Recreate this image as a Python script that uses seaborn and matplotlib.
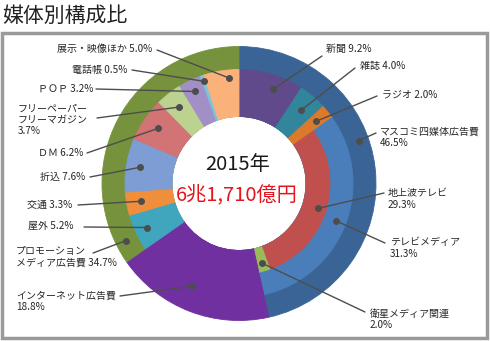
import numpy as np
import pandas as pd
import seaborn as sns
import matplotlib.pyplot as plt
from matplotlib.patches import Rectangle

sns.set_theme(style="white")
plt.rcParams['font.family'] = ['Noto Sans CJK JP', 'DejaVu Sans']

# ---- data (2015, share of ad spending, %) ----
outer_names = ['マスコミ四媒体広告費', 'インターネット広告費', 'プロモーション\nメディア広告費']
outer_vals = [46.5, 18.8, 34.7]

middle_names = ['新聞', '雑誌', 'ラジオ', 'テレビメディア', 'インターネット広告費',
                '屋外', '交通', '折込', 'ＤＭ', 'フリーペーパー\nフリーマガジン',
                'ＰＯＰ', '電話帳', '展示・映像ほか']
middle_vals = [9.2, 4.0, 2.0, 31.3, 18.8, 5.2, 3.3, 7.6, 6.2, 3.7, 3.2, 0.5, 5.0]

inner_names = ['新聞', '雑誌', 'ラジオ', '地上波テレビ', '衛星メディア関連', 'インターネット広告費',
               '屋外', '交通', '折込', 'ＤＭ', 'フリーペーパー\nフリーマガジン',
               'ＰＯＰ', '電話帳', '展示・映像ほか']
inner_vals = [9.2, 4.0, 2.0, 29.3, 2.0, 18.8, 5.2, 3.3, 7.6, 6.2, 3.7, 3.2, 0.5, 5.0]

year_text = '2015年'
total_text = '6兆1,710億円'

# ---- colours ----
colors = {
    'マスコミ四媒体広告費': '#3a6496',
    'インターネット広告費': '#7030a0',
    'プロモーション\nメディア広告費': '#76923c',
    '新聞': '#604a8c',
    '雑誌': '#31869b',
    'ラジオ': '#dc7a2c',
    'テレビメディア': '#4a7ebb',
    '地上波テレビ': '#c0504d',
    '衛星メディア関連': '#9bbb59',
    '屋外': '#40a6be',
    '交通': '#ef8f3c',
    '折込': '#7d9dd4',
    'ＤＭ': '#d27375',
    'フリーペーパー\nフリーマガジン': '#bcd290',
    'ＰＯＰ': '#a18fc6',
    '電話帳': '#7ac4dd',
    '展示・映像ほか': '#fbb27a',
}

W, H = 490, 341
fig = plt.figure(figsize=(W / 100, H / 100), dpi=100)
ax = fig.add_axes([0, 0, 1, 1])


def P(x, y):
    # pixel (top-left origin) -> data coords
    return x, H - y


cx, cy = P(239, 183.5)
r0, r1, r2, r3 = 67, 91, 114, 137

# rings drawn as stacked discs (each reaching the hole) so no seams show between rings
kw = dict(startangle=90, counterclock=False, center=(cx, cy), frame=True)
for names, vals, rad in [(outer_names, outer_vals, r3),
                         (middle_names, middle_vals, r2),
                         (inner_names, inner_vals, r1)]:
    cols = [colors[n] for n in names]
    wedges, _ = ax.pie(vals, radius=rad, colors=cols,
                       wedgeprops=dict(width=rad - r0, linewidth=0.6), **kw)
    for w, c in zip(wedges, cols):
        w.set_edgecolor(c)


def seg_angle(names, vals, name, frac):
    i = names.index(name)
    start = sum(vals[:i])
    return np.deg2rad(90 - 3.6 * (start + vals[i] * frac))


# label layout: (ring, text left x, text center y, separator, line start x, line start y, dot radius, pos in wedge)
layout = {
    '新聞': ('inner', 326, 49, ' ', 322, 56, 100, 0.6),
    '雑誌': ('inner', 360, 66, ' ', 355, 68, 96, 0.5),
    'ラジオ': ('inner', 382, 94, ' ', 377, 96, 99, 0.5),
    'マスコミ四媒体広告費': ('outer', 380, 137, '\n', 376, 133, 127, 0.42),
    '地上波テレビ': ('inner', 388, 199, '\n', 384, 193, 83, 0.5),
    'テレビメディア': ('middle', 390, 248, '\n', 385, 243, 104, 0.5),
    '衛星メディア関連': ('inner', 370, 319, '\n', 365, 312, 83, 0.5),
    'インターネット広告費': ('inner', 16, 301, '\n', 120, 296, 113, 0.55),
    '屋外': ('inner', 28, 226, ' ', 84, 227, 102, 0.5),
    '交通': ('inner', 27, 205, ' ', 78, 205, 100, 0.5),
    '折込': ('inner', 40, 177, ' ', 90, 177, 100, 0.5),
    'ＤＭ': ('inner', 38, 153, ' ', 87, 153, 98, 0.5),
    'フリーペーパー\nフリーマガジン': ('inner', 18, 120, '\n', 97, 118, 97, 0.5),
    'ＰＯＰ': ('inner', 38, 89, ' ', 96, 89, 102, 0.5),
    '電話帳': ('inner', 72, 70, ' ', 132, 70, 108, 0.5),
    '展示・映像ほか': ('inner', 57, 49, ' ', 157, 50, 106, 0.7),
    'プロモーション\nメディア広告費': ('outer', 16, 257, ' ', 93, 253, 127, 0.065),
}
rings = {'outer': (outer_names, outer_vals),
         'middle': (middle_names, middle_vals),
         'inner': (inner_names, inner_vals)}

line_col = '#4d4d4d'
for name, (ring, tx, ty, sep, lx, ly, dr, frac) in layout.items():
    names, vals = rings[ring]
    v = vals[names.index(name)]
    th = seg_angle(names, vals, name, frac)
    dx, dy = cx + dr * np.cos(th), cy + dr * np.sin(th)
    sx, sy = P(lx, ly)
    ax.plot([sx, dx], [sy, dy], color=line_col, lw=1.0, solid_capstyle='round', zorder=5)
    ax.plot(dx, dy, 'o', color=line_col, ms=4, zorder=6)
    ax.text(*P(tx, ty), f'{name}{sep}{v:.1f}%', ha='left', va='center',
            fontsize=7.2, color='#262626', linespacing=1.15, zorder=7)

# centre text
ax.text(*P(238, 165), year_text, ha='center', va='center', fontsize=14.5, color='#1a1a1a')
ax.text(*P(237, 195), total_text, ha='center', va='center', fontsize=14.5, color='#e3141b')

# title and frame
ax.text(*P(2, 16), '媒体別構成比', ha='left', va='center', fontsize=15, color='#222222')
ax.add_patch(Rectangle(P(2, 338), 485, 305, fill=False, edgecolor='#9a9a9a', lw=2.5, zorder=1))

ax.set_xlim(0, W)
ax.set_ylim(0, H)
ax.set_aspect('equal')
ax.axis('off')

fig.savefig('out.png', dpi=100, facecolor='white')
